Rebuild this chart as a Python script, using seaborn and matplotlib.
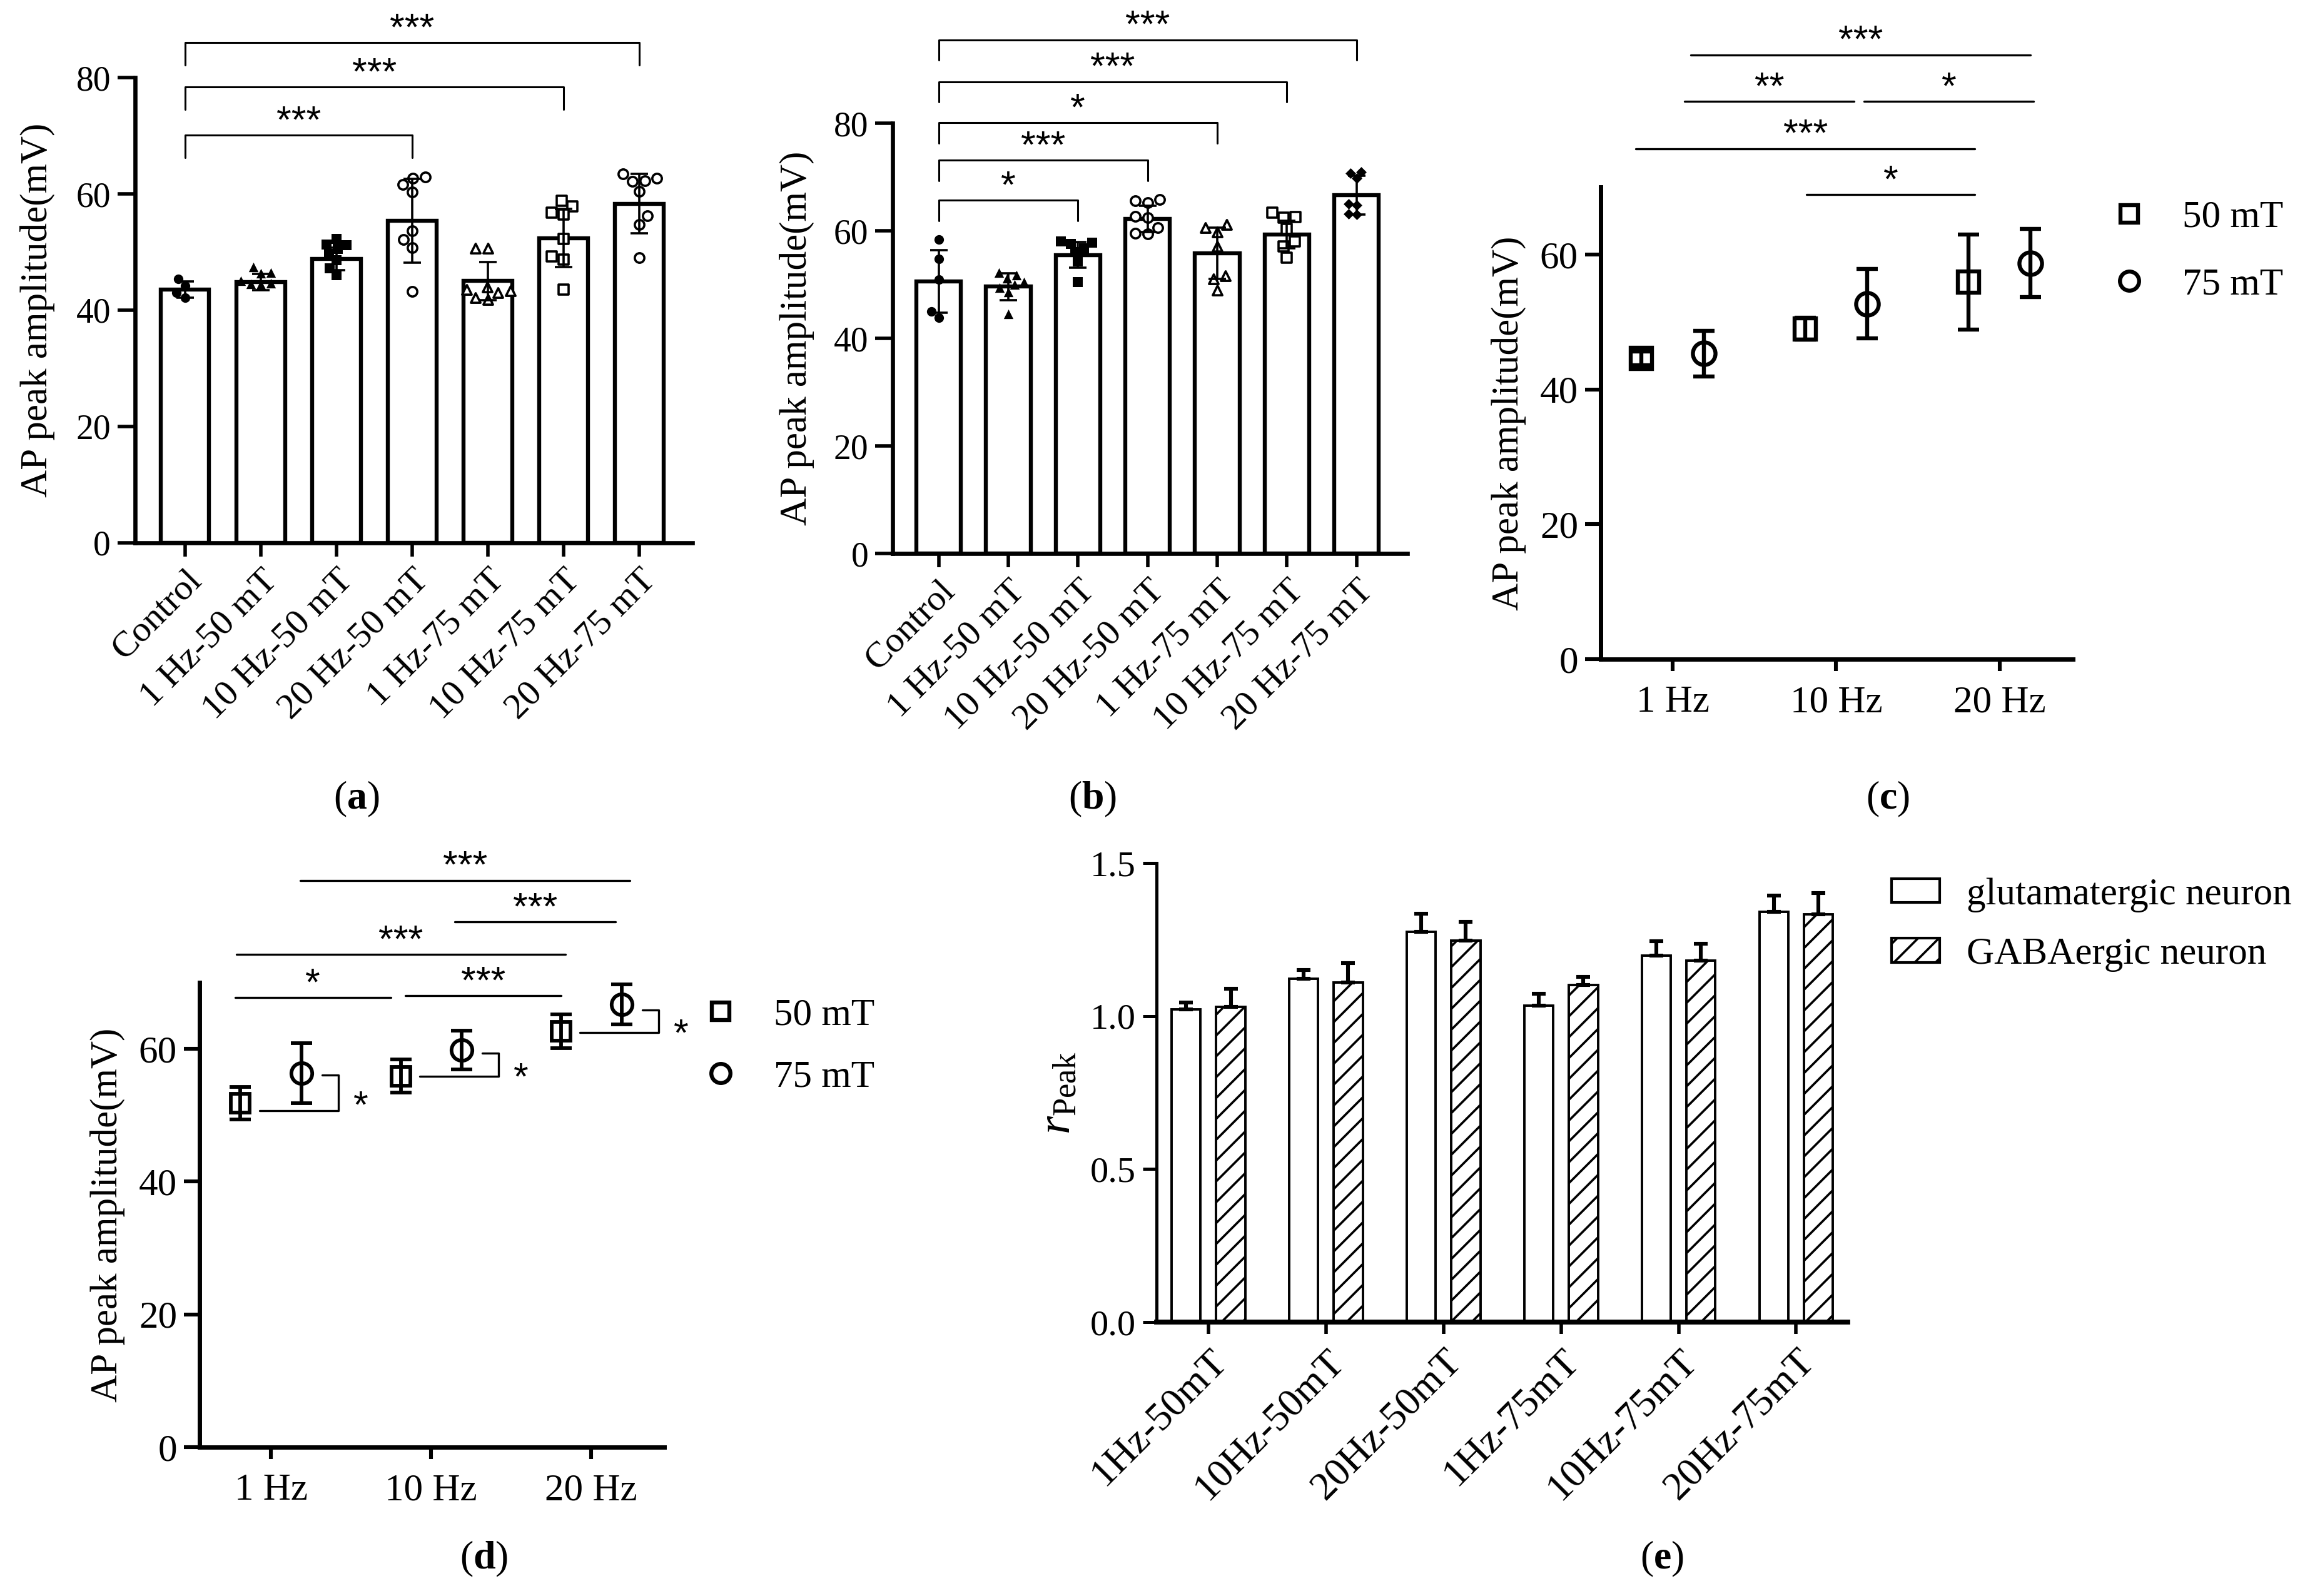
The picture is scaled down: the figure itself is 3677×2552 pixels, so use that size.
import numpy as np
import pandas as pd
import matplotlib
matplotlib.use('Agg')
import matplotlib.pyplot as plt
import seaborn as sns
from matplotlib.lines import Line2D
from matplotlib.patches import Patch

# ---------------- data ----------------
conditions_ab = ['Control', '1 Hz-50 mT', '10 Hz-50 mT', '20 Hz-50 mT',
                 '1 Hz-75 mT', '10 Hz-75 mT', '20 Hz-75 mT']

# panel (a)
a_mean = [43.5, 44.8, 48.8, 55.4, 45.0, 52.4, 58.3]
a_sd = [1.4, 1.4, 1.9, 7.2, 3.3, 5.0, 5.1]
a_pts_control = [45.4, 44.2, 43.0, 42.2]
a_pts_1hz50 = [47.4, 46.4, 46.3, 45.0, 44.6, 44.5, 44.4]
a_pts_10hz50 = [52.3, 51.3, 51.2, 50.5, 49.7, 48.6, 47.2, 46.0]
a_pts_20hz50 = [62.7, 62.9, 61.6, 60.3, 53.7, 52.2, 50.8, 43.2]
a_pts_1hz75 = [50.6, 50.6, 44.0, 43.6, 43.3, 43.0, 42.2, 41.8]
a_pts_10hz75 = [58.8, 57.8, 56.8, 56.4, 52.3, 49.2, 48.7, 43.6]
a_pts_20hz75 = [63.4, 62.7, 62.3, 62.1, 60.4, 56.2, 54.7, 49.0]
a_sig_pairs = [(0, 3), (0, 5), (0, 6)]
a_sig_heights = [70.1, 78.4, 86.0]
a_sig_labels = ['***', '***', '***']

# panel (b)
b_mean = [50.6, 49.6, 55.5, 62.2, 55.8, 59.3, 66.6]
b_sd = [5.8, 2.45, 2.4, 2.4, 4.75, 2.55, 3.6]
b_pts_control = [58.4, 54.8, 50.9, 45.0, 43.8]
b_pts_1hz50 = [52.2, 51.8, 51.2, 50.5, 50.0, 49.4, 48.6, 44.5]
b_pts_10hz50 = [58.0, 57.8, 57.6, 56.7, 56.0, 54.3, 50.5]
b_pts_20hz50 = [65.8, 65.6, 65.2, 62.7, 62.4, 60.6, 59.5, 59.4]
b_pts_1hz75 = [61.2, 60.6, 59.8, 57.1, 51.6, 51.1, 49.0]
b_pts_10hz75 = [63.4, 62.4, 62.6, 60.3, 58.0, 57.1, 55.0]
b_pts_20hz75 = [70.9, 70.7, 69.8, 65.0, 64.8, 63.1, 63.0]
b_sig_pairs = [(0, 2), (0, 3), (0, 4), (0, 5), (0, 6)]
b_sig_heights = [65.7, 73.1, 80.1, 87.7, 95.5]
b_sig_labels = ['*', '***', '*', '***', '***']

# panels (c) and (d)
freq_labels = ['1 Hz', '10 Hz', '20 Hz']
field_labels = ['50 mT', '75 mT']

c_mean_50 = [44.6, 49.0, 55.9]
c_sd_50 = [1.0, 1.6, 7.05]
c_mean_75 = [45.3, 52.7, 58.7]
c_sd_75 = [3.4, 5.15, 5.05]
c_sig_x1 = [0.817, -0.225, 0.074, 1.17, 0.11]
c_sig_x2 = [1.85, 1.85, 1.109, 2.21, 2.19]
c_sig_y = [68.9, 75.7, 82.7, 82.7, 89.6]
c_sig_labels = ['*', '***', '**', '*', '***']

d_mean_50 = [51.8, 55.9, 62.65]
d_sd_50 = [2.45, 2.5, 2.55]
d_mean_75 = [56.35, 59.8, 66.7]
d_sd_75 = [4.55, 2.9, 3.0]
d_sig_x1 = [-0.224, 0.84, -0.217, 1.148, 0.183]
d_sig_x2 = [0.748, 1.81, 1.84, 2.15, 2.24]
d_sig_y = [67.7, 68.0, 74.2, 79.1, 85.4]
d_sig_labels = ['*', '***', '***', '***', '***']
d_pair_low = [50.7, 55.9, 62.5]
d_pair_high = [56.1, 59.4, 65.9]
d_pair_labels = ['*', '*', '*']

# panel (e)
e_conditions = ['1Hz-50mT', '10Hz-50mT', '20Hz-50mT', '1Hz-75mT', '10Hz-75mT', '20Hz-75mT']
neuron_types = ['glutamatergic neuron', 'GABAergic neuron']
e_glut_mean = [1.022, 1.122, 1.275, 1.034, 1.198, 1.340]
e_glut_sd = [0.022, 0.028, 0.059, 0.039, 0.046, 0.054]
e_gaba_mean = [1.030, 1.109, 1.246, 1.102, 1.182, 1.332]
e_gaba_sd = [0.059, 0.065, 0.063, 0.026, 0.054, 0.070]

# ---------------- style ----------------
sns.set_theme(style='ticks', rc={'axes.edgecolor': 'black', 'xtick.color': 'black',
                                 'ytick.color': 'black', 'text.color': 'black',
                                 'axes.labelcolor': 'black'})
plt.rcParams['font.family'] = ['Liberation Serif', 'DejaVu Serif']
plt.rcParams['mathtext.fontset'] = 'custom'
plt.rcParams['mathtext.rm'] = 'Liberation Serif'
plt.rcParams['mathtext.it'] = 'Liberation Serif:italic'
plt.rcParams['mathtext.bf'] = 'Liberation Serif:bold'
plt.rcParams['hatch.linewidth'] = 1.3

STAR_FS = 22
STAR_FAMILY = 'Liberation Sans'

W, H = 3677, 2552
DPI = 200
fig = plt.figure(figsize=(W / DPI, H / DPI), dpi=DPI)
fig.patch.set_facecolor('white')

ax_a = fig.add_axes([0.0587, 0.6599, 0.2423, 0.2915])
ax_b = fig.add_axes([0.3881, 0.6532, 0.2238, 0.2696])
ax_c = fig.add_axes([0.6960, 0.5870, 0.2053, 0.2958])
ax_d = fig.add_axes([0.0868, 0.0933, 0.2021, 0.2911])
ax_e = fig.add_axes([0.5029, 0.1716, 0.3005, 0.2876])


def star(ax, x, y, label, rise=0.0):
    """Place asterisk label so its visual centre sits `rise` points above y."""
    ax.annotate(label, (x, y), xytext=(0, rise - 0.575 * STAR_FS), textcoords='offset points',
                ha='center', va='baseline', fontsize=STAR_FS, family=STAR_FAMILY,
                annotation_clip=False)


def bar_swarm(ax, means, sds, point_lists, styles):
    sns.barplot(x=conditions_ab, y=means, order=conditions_ab, color='white', saturation=1,
                edgecolor='black', linewidth=2.3, width=0.64, errorbar=None, ax=ax, zorder=1)
    for cond, pts, (mk, filled) in zip(conditions_ab, point_lists, styles):
        sns.swarmplot(x=[cond] * len(pts), y=pts, order=conditions_ab, marker=mk,
                      color='black' if filled else 'white', edgecolor='black',
                      linewidth=0 if filled else 1.3, size=4.3 if mk == 'D' else 5.5,
                      ax=ax, zorder=4)
    ax.errorbar(np.arange(len(means)), means, yerr=sds, fmt='none', ecolor='black',
                elinewidth=1.3, capsize=5, capthick=1.3, zorder=5)
    ax.set_xlim(-0.66, 6.7)
    ax.set_ylim(0, 80)
    ax.set_yticks([0, 20, 40, 60, 80])
    ax.set_xticks(range(len(conditions_ab)))
    ax.set_xticklabels(conditions_ab, rotation=45, ha='right', va='top',
                       rotation_mode='anchor', fontsize=21)
    ax.tick_params(axis='y', labelsize=20, length=10, width=2.0, pad=4)
    ax.tick_params(axis='x', length=8, width=2.0, pad=4)
    for s in ['left', 'bottom']:
        ax.spines[s].set_linewidth(2.4)
    sns.despine(ax=ax)
    ax.set_xlabel('')
    ax.set_ylabel('AP peak amplitude(mV)', fontsize=22, labelpad=12)


def brackets(ax, pairs, heights, labels, drop):
    for (i, j), h, lab in zip(pairs, heights, labels):
        ax.plot([i, i, j, j], [h - drop, h, h, h - drop], color='black', lw=1.1,
                clip_on=False, zorder=6)
        star(ax, (i + j) / 2, h, lab, rise=14.4)


styles_a = [('o', True), ('^', True), ('s', True), ('o', False), ('^', False), ('s', False), ('o', False)]
styles_b = [('o', True), ('^', True), ('s', True), ('o', False), ('^', False), ('s', False), ('D', True)]

bar_swarm(ax_a, a_mean, a_sd,
          [a_pts_control, a_pts_1hz50, a_pts_10hz50, a_pts_20hz50, a_pts_1hz75, a_pts_10hz75, a_pts_20hz75],
          styles_a)
brackets(ax_a, a_sig_pairs, a_sig_heights, a_sig_labels, drop=3.9)

bar_swarm(ax_b, b_mean, b_sd,
          [b_pts_control, b_pts_1hz50, b_pts_10hz50, b_pts_20hz50, b_pts_1hz75, b_pts_10hz75, b_pts_20hz75],
          styles_b)
ax_b.set_xlim(-0.66, 6.73)
ax_b.set_ylabel('AP peak amplitude(mV)', fontsize=22, labelpad=11)
brackets(ax_b, b_sig_pairs, b_sig_heights, b_sig_labels, drop=3.8)


def point_panel(ax, m50, s50, m75, s75, dodge, ms, lw, cap):
    x = np.arange(len(freq_labels))
    ax.plot(x - dodge, m50, ls='none', marker='s', ms=ms, mfc='white', mec='black', mew=lw, zorder=3)
    ax.plot(x + dodge, m75, ls='none', marker='o', ms=ms + 1, mfc='white', mec='black', mew=lw, zorder=3)
    ax.errorbar(x - dodge, m50, yerr=s50, fmt='none', ecolor='black', elinewidth=lw,
                capsize=cap, capthick=lw, zorder=4)
    ax.errorbar(x + dodge, m75, yerr=s75, fmt='none', ecolor='black', elinewidth=lw,
                capsize=cap, capthick=lw, zorder=4)
    ax.set_ylim(0, 70)
    ax.set_yticks([0, 20, 40, 60])
    ax.set_xticks(x)
    ax.set_xticklabels(freq_labels, fontsize=22)
    ax.tick_params(axis='y', labelsize=22, length=9, width=2.2, pad=4)
    ax.tick_params(axis='x', length=7, width=2.2, pad=8)
    for s in ['left', 'bottom']:
        ax.spines[s].set_linewidth(2.5)
    sns.despine(ax=ax)


def field_legend(ax, x0, y0, ms, spacing):
    handles = [Line2D([], [], ls='none', marker='s', ms=ms, mfc='white', mec='black', mew=2.3),
               Line2D([], [], ls='none', marker='o', ms=ms + 1, mfc='white', mec='black', mew=2.3)]
    fig.legend(handles, field_labels, loc='center left', bbox_to_anchor=(x0, y0),
               bbox_transform=fig.transFigure, frameon=False, fontsize=22,
               handlelength=1.0, handletextpad=0.9, labelspacing=spacing, borderpad=0,
               borderaxespad=0)


# panel (c)
point_panel(ax_c, c_mean_50, c_sd_50, c_mean_75, c_sd_75, dodge=0.19, ms=12, lw=2.3, cap=6)
ax_c.set_xlim(-0.44, 2.45)
ax_c.set_ylabel('AP peak amplitude(mV)', fontsize=22, labelpad=8)
for x1, x2, y, lab in zip(c_sig_x1, c_sig_x2, c_sig_y, c_sig_labels):
    ax_c.plot([x1, x2], [y, y], color='black', lw=1.2, clip_on=False)
    star(ax_c, (x1 + x2) / 2, y, lab, rise=14.4)
field_legend(ax_c, 0.9174, 0.8425, 10, 0.85)

# panel (d)
point_panel(ax_d, d_mean_50, d_sd_50, d_mean_75, d_sd_75, dodge=0.19, ms=11, lw=2.1, cap=6)
ax_d.set_xlim(-0.445, 2.457)
ax_d.set_ylabel('AP peak amplitude(mV)', fontsize=22, labelpad=8)
for x1, x2, y, lab in zip(d_sig_x1, d_sig_x2, d_sig_y, d_sig_labels):
    ax_d.plot([x1, x2], [y, y], color='black', lw=1.2, clip_on=False)
    star(ax_d, (x1 + x2) / 2, y, lab, rise=14.4)
for i, (lo, hi, lab) in enumerate(zip(d_pair_low, d_pair_high, d_pair_labels)):
    ax_d.plot([i - 0.07, i + 0.42, i + 0.42, i + 0.32], [lo, lo, hi, hi], color='black', lw=1.2,
              clip_on=False)
    star(ax_d, i + 0.56, (lo + hi) / 2 - 0.4, lab, rise=0)
field_legend(ax_d, 0.3049, 0.3444, 10, 0.7)

# panel (e)
df_e = pd.DataFrame({
    'condition': e_conditions * 2,
    'neuron': [neuron_types[0]] * len(e_conditions) + [neuron_types[1]] * len(e_conditions),
    'r_peak': e_glut_mean + e_gaba_mean,
})
sns.barplot(data=df_e, x='condition', y='r_peak', hue='neuron', order=e_conditions,
            hue_order=neuron_types, palette=['white', 'white'], saturation=1,
            edgecolor='black', linewidth=1.4, width=0.76, gap=0.35, errorbar=None,
            legend=False, ax=ax_e)
for bar in ax_e.containers[1]:
    bar.set_hatch('//')
for cont, means, sds in zip(ax_e.containers[:2], [e_glut_mean, e_gaba_mean], [e_glut_sd, e_gaba_sd]):
    xs = [r.get_x() + r.get_width() / 2 for r in cont]
    ax_e.errorbar(xs, means, yerr=[np.zeros(len(sds)), sds], fmt='none', ecolor='black',
                  elinewidth=2.2, capsize=4, capthick=2.2, zorder=4)
ax_e.set_xlim(-0.44, 5.44)
ax_e.set_ylim(0, 1.5)
ax_e.set_yticks([0.0, 0.5, 1.0, 1.5])
ax_e.set_yticklabels(['0.0', '0.5', '1.0', '1.5'])
ax_e.set_xticks(range(len(e_conditions)))
ax_e.set_xticklabels(e_conditions, rotation=45, ha='right', va='top', rotation_mode='anchor',
                     fontsize=23)
ax_e.tick_params(axis='y', labelsize=21, length=8, width=1.8, pad=4)
ax_e.tick_params(axis='x', length=7, width=2.0, pad=5)
ax_e.spines['left'].set_linewidth(1.8)
ax_e.spines['bottom'].set_linewidth(2.8)
sns.despine(ax=ax_e)
ax_e.set_xlabel('')
ax_e.set_ylabel(r'$r_{\mathrm{Peak}}$', fontsize=27, labelpad=6)
e_handles = [Patch(facecolor='white', edgecolor='black', lw=1.5),
             Patch(facecolor='white', edgecolor='black', lw=1.5, hatch='//')]
fig.legend(e_handles, neuron_types, loc='center left', bbox_to_anchor=(0.8224, 0.4207),
           bbox_transform=fig.transFigure, frameon=False, fontsize=22,
           handlelength=1.26, handleheight=0.6, handletextpad=0.7, labelspacing=0.65,
           borderpad=0, borderaxespad=0)

# panel letters
for lab, x, y in [('a', 570, 1278), ('b', 1747, 1278), ('c', 3018, 1278),
                  ('d', 774, 2493), ('e', 2657, 2493)]:
    fig.text(x / W, 1 - y / H, r'($\mathbf{' + lab + r'}$)', ha='center', va='center', fontsize=23)

fig.savefig('out.png', dpi=DPI, facecolor='white')
